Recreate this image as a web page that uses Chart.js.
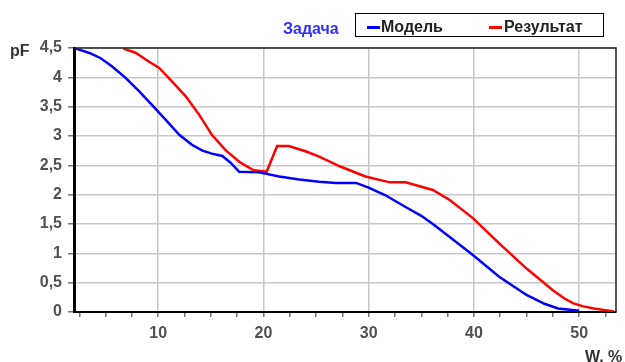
<!DOCTYPE html>
<html>
<head>
<meta charset="utf-8">
<script src="https://cdn.jsdelivr.net/npm/chart.js@4"></script>
<style>
    body { margin: 0; background: #fff; font-family: "Liberation Sans", Arial, sans-serif; }
    #wrap { position: relative; width: 625px; height: 362px; overflow: hidden; }
    #chart { position: absolute; left: 0; top: 0; }
    .lbl { position: absolute; font-size: 16px; line-height: 16px; white-space: nowrap; }
    #task { left: 283px; top: 21px; color: #3030ff; font-weight: bold; }
    #legend { position: absolute; left: 355px; top: 13px; width: 247px; height: 22px; border: 1.5px solid #000; font-size: 16px; line-height: 16px; color: #222; font-weight: bold; }
    .swatch { position: absolute; top: 12px; width: 13px; height: 3px; }
    .ltext { position: absolute; top: 5px; }
    #pf { left: 10px; top: 43px; font-weight: bold; color: #333; }
    #w { left: 585px; top: 349px; font-weight: bold; color: #333; }
</style>
</head>
<body>
<div id="wrap">
    <canvas id="chart" width="625" height="362"></canvas>
    <div class="lbl" id="task">Задача</div>
    <div id="legend">
        <span class="swatch" style="left:11px;background:#0000ff"></span>
        <span class="ltext" style="left:25px">Модель</span>
        <span class="swatch" style="left:133px;background:#ff0000"></span>
        <span class="ltext" style="left:148px">Результат</span>
    </div>
    <div class="lbl" id="pf">pF</div>
    <div class="lbl" id="w">W, %</div>
</div>
<script>
// Модель
let wModel = [2.0, 3.4, 4.5, 5.6, 6.9, 8.2, 9.4, 10.7, 12.0, 13.2, 14.2, 15.1, 16.1, 16.9, 17.7, 19.6, 21.5, 23.4, 25.3, 26.9, 28.8, 30.0, 31.6, 33.5, 35.0, 36.1, 37.7, 39.9, 42.4, 45.0, 46.7, 48.0, 50.0];
let pfModel = [4.50, 4.42, 4.33, 4.19, 3.99, 3.76, 3.53, 3.28, 3.02, 2.85, 2.75, 2.70, 2.66, 2.54, 2.39, 2.38, 2.31, 2.26, 2.22, 2.20, 2.20, 2.12, 1.99, 1.79, 1.64, 1.50, 1.28, 0.97, 0.60, 0.29, 0.14, 0.06, 0.02];

// Результат
let wResult = [6.7, 7.85, 9.1, 10.1, 11.3, 12.6, 13.9, 15.1, 16.4, 17.7, 18.9, 19.3, 20.3, 21.3, 22.4, 24.0, 25.3, 27.3, 29.7, 32.0, 33.5, 36.1, 37.7, 39.9, 42.4, 45.0, 46.7, 47.5, 48.6, 49.4, 50.3, 51.4, 53.3];
let pfResult = [4.49, 4.42, 4.27, 4.16, 3.93, 3.68, 3.36, 3.02, 2.76, 2.56, 2.43, 2.41, 2.39, 2.83, 2.83, 2.74, 2.65, 2.48, 2.31, 2.21, 2.21, 2.08, 1.91, 1.60, 1.17, 0.74, 0.49, 0.37, 0.23, 0.15, 0.10, 0.06, 0.01];

let xLabels = [10, 20, 30, 40, 50];
let xMinorStep = 2.5;

function toPoints(xs, ys) {
    return xs.map((x, i) => ({ x: x, y: ys[i] }));
}

Chart.defaults.font.family = "'Liberation Sans', Arial, sans-serif";
Chart.defaults.font.size = 16;
Chart.defaults.font.weight = "bold";
Chart.defaults.color = "#505050";

const frame = {
    id: "frame",
    afterDraw(chart) {
        let a = chart.chartArea;
        let ctx = chart.ctx;
        ctx.save();
        ctx.strokeStyle = "#222";
        ctx.lineWidth = 1.5;
        ctx.beginPath();
        ctx.moveTo(a.left, a.top);
        ctx.lineTo(a.right, a.top);
        ctx.lineTo(a.right, a.bottom);
        ctx.stroke();
        ctx.restore();
    }
};

new Chart(document.getElementById("chart"), {
    type: "scatter",
    data: {
        datasets: [
            { label: "Модель", data: toPoints(wModel, pfModel), showLine: true, borderColor: "#0000ff", borderWidth: 2.5, pointRadius: 0 },
            { label: "Результат", data: toPoints(wResult, pfResult), showLine: true, borderColor: "#ff0000", borderWidth: 2.5, pointRadius: 0 }
        ]
    },
    options: {
        responsive: false,
        animation: false,
        layout: { padding: { top: 48, right: 9, left: 0, bottom: 0 } },
        plugins: { legend: { display: false }, tooltip: { enabled: false } },
        scales: {
            x: {
                type: "linear",
                min: 2,
                max: 53.5,
                afterBuildTicks(scale) {
                    let t = [];
                    for (let v = xMinorStep; v <= scale.max; v += xMinorStep) t.push({ value: v });
                    scale.ticks = t;
                },
                afterFit(scale) { scale.height = 50; },
                ticks: {
                    autoSkip: false,
                    maxRotation: 0,
                    padding: 7,
                    callback: v => xLabels.includes(v) ? String(v) : ""
                },
                grid: {
                    color: c => c.tick && xLabels.includes(c.tick.value) ? "#c8c8c8" : "rgba(0,0,0,0)",
                    tickColor: "#777",
                    tickLength: 5,
                    lineWidth: 1.5
                },
                border: { color: "#000", width: 2 }
            },
            y: {
                min: 0,
                max: 4.5,
                afterFit(scale) { scale.width = 74; },
                ticks: {
                    stepSize: 0.5,
                    padding: 6,
                    callback: v => String(v).replace(".", ",")
                },
                grid: { color: "#c8c8c8", tickColor: "#777", tickLength: 6, lineWidth: 1.5 },
                border: { color: "#000", width: 3 }
            }
        }
    },
    plugins: [frame]
});
</script>
</body>
</html>
